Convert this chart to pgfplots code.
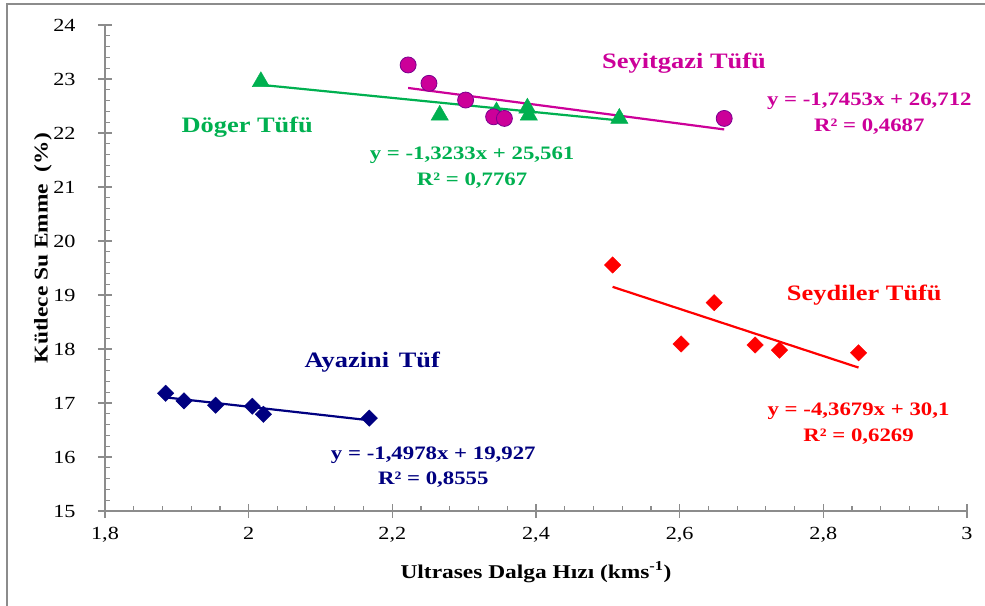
\documentclass[border=0pt]{standalone}
\usepackage{fontspec}
\setmainfont{Liberation Serif}[FakeStretch=1.2]
\usepackage{pgfplots}
\pgfplotsset{compat=1.18}
\definecolor{cNavy}{HTML}{000080}
\definecolor{cRed}{HTML}{FF0000}
\definecolor{cGreen}{HTML}{00B050}
\definecolor{cMag}{HTML}{CC0099}
\definecolor{cAx}{HTML}{8C8C8C}
\newcommand{\tickfont}{\fontsize{18.5bp}{22bp}\selectfont}
\newcommand{\titlefont}{\fontsize{19.5bp}{23bp}\selectfont\bfseries}
\newcommand{\serfont}{\fontsize{22bp}{26bp}\selectfont\bfseries}
\newcommand{\eqfont}{\fontsize{19bp}{25.5bp}\selectfont\bfseries}
\begin{document}
\begin{tikzpicture}
\useasboundingbox (-105bp,-95bp) rectangle (880bp,511bp);
\draw[cAx, line width=1.2bp] (-98bp,-95bp) -- (-98bp,507bp) -- (880bp,507bp);
\begin{axis}[
 at={(0,0)}, anchor=south west,
 width=862bp, height=486bp, scale only axis,
 xmin=1.8, xmax=3, ymin=15, ymax=24,
 axis x line*=bottom, axis y line*=left,
 axis line style={cAx, line width=1.2bp},
 xtick={1.8,2,2.2,2.4,2.6,2.8,3},
 ytick={15,16,17,18,19,20,21,22,23,24},
 minor x tick num=4, minor y tick num=4,
 tick align=inside,
 major tick length=14bp, minor tick length=5bp,
 tick style={cAx, line width=1.2bp},
 major x tick style={yshift=-7bp},
 major y tick style={xshift=-7bp},
 ticklabel style={font=\tickfont, black},
 /pgf/number format/assume math mode=true,
 /pgf/number format/use comma,
 /pgf/number format/1000 sep={},
 xticklabel style={yshift=-13bp},
 yticklabel style={xshift=-26bp},
 xlabel={Ultrases Dalga Hızı (kms\textsuperscript{-1})},
 ylabel={Kütlece Su Emme\ \ (\%)},
 every axis x label/.style={at={(axis description cs:0.5,0)}, yshift=-61bp, anchor=center, font=\titlefont},
 every axis y label/.style={at={(axis description cs:0,0.541)}, xshift=-62bp, rotate=90, anchor=center, font=\titlefont},
 clip=false,
]
% Ayazini
\addplot[only marks, mark=square*, mark size=5.8bp, mark options={rotate=45, fill=cNavy, draw=cNavy}] coordinates {
 (1.8845,17.18) (1.910,17.04) (1.954,16.96) (2.005,16.94) (2.0205,16.79) (2.168,16.72)};
\addplot[cNavy, line width=2.2bp, no marks] coordinates {(1.8845,17.104) (2.168,16.680)};
% Seydiler
\addplot[only marks, mark=square*, mark size=5.8bp, mark options={rotate=45, fill=cRed, draw=cRed}] coordinates {
 (2.5066,19.556) (2.602,18.093) (2.648,18.858) (2.705,18.074) (2.739,17.98) (2.849,17.93)};
\addplot[cRed, line width=2.2bp, no marks] coordinates {(2.5066,19.151) (2.849,17.656)};
% Doger
\addplot[only marks, mark=triangle*, mark size=10bp, mark options={fill=cGreen, draw=cGreen}] coordinates {
 (2.017,22.95) (2.266,22.33) (2.345,22.39) (2.388,22.46) (2.390,22.33) (2.516,22.27)};
\addplot[cGreen, line width=2.2bp, no marks] coordinates {(2.017,22.892) (2.516,22.232)};
% Seyitgazi
\addplot[only marks, mark=*, mark size=8bp, mark options={fill=cMag, draw=cMag!75!blue!80!black, line width=0.8bp}] coordinates {
 (2.222,23.26) (2.251,22.92) (2.302,22.61) (2.341,22.30) (2.356,22.27) (2.662,22.27)};
\addplot[cMag, line width=2.2bp, no marks] coordinates {(2.222,22.834) (2.662,22.066)};
% labels
\node[cMag, font=\serfont] at (axis cs:2.606,23.30) {Seyitgazi Tüfü};
\node[cMag, font=\eqfont, align=center] at (axis cs:2.864,22.36) {y = -1,7453x + 26,712\\R² = 0,4687};
\node[cGreen, font=\serfont] at (axis cs:1.998,22.11) {Döger Tüfü};
\node[cGreen, font=\eqfont, align=center] at (axis cs:2.311,21.36) {y = -1,3233x + 25,561\\R² = 0,7767};
\node[cNavy, font=\serfont] at (axis cs:2.172,17.76) {Ayazini\hspace{3bp} Tüf};
\node[cNavy, font=\eqfont, align=center] at (axis cs:2.257,15.81) {y = -1,4978x + 19,927\\R² = 0,8555};
\node[cRed, font=\serfont] at (axis cs:2.857,19.0) {Seydiler Tüfü};
\node[cRed, font=\eqfont, align=center] at (axis cs:2.849,16.62) {y = -4,3679x + 30,1\\R² = 0,6269};
\end{axis}
\end{tikzpicture}
\end{document}
